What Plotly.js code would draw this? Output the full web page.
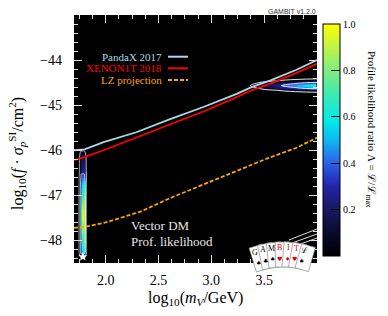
<!DOCTYPE html>
<html>
<head>
<meta charset="utf-8">
<script src="https://cdn.plot.ly/plotly-3.0.1.min.js"></script>
<style>html,body{margin:0;padding:0;background:#fff;}#plot{width:388px;height:316px;}</style>
</head>
<body>
<div id="plot"></div>
<script>
// ---- Limit curves (log10 mV [GeV], log10 f*sigma_p^SI [cm^2]) ----
var pandaX = [1.70, 1.80, 1.98, 2.29, 2.61, 2.925, 3.24, 3.38, 3.56, 3.80, 4.00];
var pandaY = [-46.00, -45.98, -45.82, -45.60, -45.31, -45.04, -44.75, -44.60, -44.45, -44.22, -44.00];

var xenonX = [1.70, 1.80, 1.98, 2.29, 2.61, 2.925, 3.24, 3.38, 3.56, 3.80, 4.00];
var xenonY = [-46.22, -46.15, -46.00, -45.72, -45.43, -45.14, -44.82, -44.67, -44.52, -44.29, -44.08];

var lzX = [1.70, 1.80, 2.00, 2.33, 2.60, 2.80, 3.085, 3.30, 3.53, 3.80, 4.00];
var lzY = [-47.72, -47.70, -47.60, -47.36, -47.07, -46.88, -46.60, -46.40, -46.18, -45.95, -45.72];

// ---- Profile likelihood ratio: low-mass strip ----
var stripX = [1.742, 1.755, 1.769, 1.783, 1.797, 1.811, 1.824];
var stripY = [-48.45, -48.35, -48.25, -48.10, -47.90, -47.70, -47.50, -47.30, -47.10, -46.90, -46.75, -46.60, -46.45, -46.30, -46.15, -46.05, -45.97];
var stripZ = [
  [0, 0,    0,    0,    0,    0,    0],
  [0, 0.03, 0.10, 0.10, 0.10, 0.03, 0],
  [0, 0.14, 0.55, 0.55, 0.55, 0.14, 0],
  [0, 0.17, 0.68, 0.68, 0.68, 0.17, 0],
  [0, 0.19, 0.75, 0.75, 0.75, 0.19, 0],
  [0, 0.21, 0.85, 0.85, 0.85, 0.21, 0],
  [0, 0.23, 0.93, 0.93, 0.93, 0.23, 0],
  [0, 0.22, 0.90, 0.90, 0.90, 0.22, 0],
  [0, 0.20, 0.78, 0.78, 0.78, 0.20, 0],
  [0, 0.16, 0.65, 0.65, 0.65, 0.16, 0],
  [0, 0.14, 0.56, 0.56, 0.56, 0.14, 0],
  [0, 0.10, 0.40, 0.40, 0.40, 0.10, 0],
  [0, 0.07, 0.24, 0.24, 0.24, 0.07, 0],
  [0, 0.07, 0.21, 0.21, 0.21, 0.07, 0],
  [0, 0.06, 0.16, 0.16, 0.16, 0.06, 0],
  [0, 0.03, 0.08, 0.08, 0.08, 0.03, 0],
  [0, 0,    0,    0,    0,    0,    0]
];

// ---- Profile likelihood ratio: high-mass blob ----
var blobX = [3.33, 3.40, 3.50, 3.60, 3.70, 3.80, 3.90, 4.00];
var blobY = [-44.74, -44.67, -44.615, -44.565, -44.515, -44.46, -44.39];
var blobZ = [
  [0, 0,    0,    0,    0,    0,    0,    0],
  [0, 0,    0.02, 0.04, 0.06, 0.08, 0.10, 0.12],
  [0, 0.03, 0.09, 0.14, 0.22, 0.30, 0.40, 0.45],
  [0, 0.08, 0.15, 0.22, 0.38, 0.50, 0.62, 0.70],
  [0, 0.03, 0.09, 0.14, 0.22, 0.30, 0.40, 0.45],
  [0, 0,    0.02, 0.04, 0.06, 0.08, 0.10, 0.12],
  [0, 0,    0,    0,    0,    0,    0,    0]
];

// best-fit point
var bestX = [1.784];
var bestY = [-48.36];

// tick labels
var xTicks = [2.0, 2.5, 3.0, 3.5];
var yTicks = [-48, -47, -46, -45, -44];
var cbTicks = [0.2, 0.4, 0.6, 0.8, 1.0];
var cbMinorTicks = [0.1, 0.3, 0.5, 0.7, 0.9];

var legendNames = ['PandaX 2017', 'XENON1T 2018', 'LZ projection'];
var legendColors = ['#add8e6', '#ff0000', '#ffa500'];

var cardLetters = ['G', 'A', 'M', 'B', 'I', 'T', 'ℒ'];
var cardSuits = ['♠', '♣', '♠', '♥', '♦', '♥', '♠'];
var cardColors = ['#000', '#000', '#000', '#e00000', '#e00000', '#e00000', '#000'];
var cardAngles = [-17, -11.5, -6, -0.5, 5, 10.5, 16];

var SERIF = 'Liberation Serif, DejaVu Serif, serif';
var cscale = [[0, '#000000'], [0.1, '#0a0a2a'], [0.2, '#181862'], [0.3, '#2424aa'], [0.4, '#2a62e8'], [0.5, '#10b8f0'], [0.58, '#00eae8'], [0.7, '#40eab0'], [0.8, '#80ec80'], [0.9, '#c0f448'], [1, '#ffff00']];

// plot-area pixel geometry
var L = 74, R = 317, T = 15, B = 263;
function pX(x) { return (x - L) / (R - L); }
function pY(y) { return (B - y) / (B - T); }
var CB_L = 323, CB_R = 340, CB_T = 24, CB_B = 256;

var contourLevels = {start: 0.045, end: 0.32, size: 0.275, coloring: 'none', showlines: true};

var traces = [
  {type: 'heatmap', x: stripX, y: stripY, z: stripZ, zmin: 0, zmax: 1, zsmooth: 'best', colorscale: cscale,
   showscale: true, hoverinfo: 'skip',
   colorbar: {x: pX(CB_L), xanchor: 'left', xpad: 0, ypad: 0, thickness: CB_R - CB_L, thicknessmode: 'pixels',
     len: (CB_B - CB_T) / (B - T), lenmode: 'fraction', y: pY(CB_B), yanchor: 'bottom',
     outlinecolor: '#000', outlinewidth: 1, ticks: 'inside', ticklen: 9, tickcolor: '#000', tickwidth: 1,
     tickvals: cbTicks, tickformat: '.1f', tickfont: {family: SERIF, size: 10, color: '#000'}}},
  {type: 'heatmap', x: blobX, y: blobY, z: blobZ, zmin: 0, zmax: 1, zsmooth: 'best', colorscale: cscale,
   showscale: false, hoverinfo: 'skip'},
  {type: 'contour', x: stripX, y: stripY, z: stripZ, showscale: false, hoverinfo: 'skip', autocontour: false,
   contours: contourLevels, line: {color: '#ffffff', width: 0.7, smoothing: 1}},
  {type: 'contour', x: blobX, y: blobY, z: blobZ, showscale: false, hoverinfo: 'skip', autocontour: false,
   contours: contourLevels, line: {color: '#ffffff', width: 0.9, smoothing: 1}},
  {type: 'scatter', mode: 'lines', x: lzX, y: lzY, line: {color: '#ffa500', width: 1.8, dash: '4px,2px'}, showlegend: false},
  {type: 'scatter', mode: 'lines', x: xenonX, y: xenonY, line: {color: '#ff0000', width: 1.8}, showlegend: false},
  {type: 'scatter', mode: 'lines', x: pandaX, y: pandaY, line: {color: '#add8e6', width: 1.8}, showlegend: false},
  {type: 'scatter', mode: 'markers', x: bestX, y: bestY, marker: {symbol: 'star', size: 7, color: '#ffffff'}, showlegend: false}
];

var annotations = [];
var shapes = [];

// colorbar minor ticks
cbMinorTicks.forEach(function (v) {
  var yy = CB_B - (CB_B - CB_T) * v;
  shapes.push({type: 'line', xref: 'paper', yref: 'paper', x0: pX(CB_R - 5), x1: pX(CB_R), y0: pY(yy), y1: pY(yy),
    line: {color: '#000', width: 1}});
});

// legend: text right-aligned, sample line to the right
var legY = [56.7, 68.3, 80];
for (var i = 0; i < legendNames.length; i++) {
  annotations.push({xref: 'paper', yref: 'paper', x: pX(164), y: pY(legY[i]), xanchor: 'right', yanchor: 'middle',
    text: legendNames[i], showarrow: false, font: {family: SERIF, size: 11, color: legendColors[i]}});
  shapes.push({type: 'line', xref: 'paper', yref: 'paper', x0: pX(168), x1: pX(188), y0: pY(legY[i]), y1: pY(legY[i]),
    line: {color: legendColors[i], width: 2, dash: i === 2 ? '4px,2px' : 'solid'}});
}

annotations.push({xref: 'paper', yref: 'paper', x: pX(129), y: pY(225), xanchor: 'left', yanchor: 'middle',
  text: 'Vector DM', showarrow: false, font: {family: SERIF, size: 13, color: '#e6e6e6'}});
annotations.push({xref: 'paper', yref: 'paper', x: pX(129), y: pY(241), xanchor: 'left', yanchor: 'middle',
  text: 'Prof. likelihood', showarrow: false, font: {family: SERIF, size: 13, color: '#e6e6e6'}});

// axis titles
annotations.push({xref: 'paper', yref: 'paper', x: pX(195.5), y: pY(298), xanchor: 'center', yanchor: 'middle',
  text: 'log<sub>10</sub>(<i>m</i><sub><i>V</i></sub>/GeV)', showarrow: false, font: {family: SERIF, size: 16, color: '#000'}});
annotations.push({xref: 'paper', yref: 'paper', x: pX(17), y: pY(154), xanchor: 'center', yanchor: 'middle', textangle: -90,
  text: 'log<sub>10</sub>(<i>f</i> · <i>σ</i><sub><i>p</i></sub><sup>SI</sup>/cm<sup>2</sup>)', showarrow: false,
  font: {family: SERIF, size: 16, color: '#000'}});
annotations.push({xref: 'paper', yref: 'paper', x: pX(371), y: pY(129), xanchor: 'center', yanchor: 'middle', textangle: 90,
  text: 'Profile likelihood ratio Λ = ℒ/ℒ<sub>max</sub>', showarrow: false,
  font: {family: SERIF, size: 11, color: '#000'}});
annotations.push({xref: 'paper', yref: 'paper', x: pX(318), y: pY(11), xanchor: 'right', yanchor: 'middle',
  text: 'GAMBIT v1.2.0', showarrow: false, font: {family: 'Liberation Sans, sans-serif', size: 7, color: '#333'}});

// GAMBIT card logo
var piv = [283, 335];
function pt(r, off, th) {
  var s = Math.sin(th), c = Math.cos(th);
  return [piv[0] + r * s + off * c, piv[1] - r * c + off * s];
}
[[289, 240, 317, 229], [292, 243, 317, 234], [295, 246, 317, 238]].forEach(function (l) {
  shapes.push({type: 'line', xref: 'paper', yref: 'paper', x0: pX(l[0]), y0: pY(l[1]), x1: pX(l[2]), y1: pY(l[3]),
    line: {color: '#dddddd', width: 1}});
});
for (var k = 0; k < cardAngles.length; k++) {
  var th = cardAngles[k] * Math.PI / 180;
  var c1 = pt(68, -7, th), c2 = pt(93, -7, th), c3 = pt(93, 7, th), c4 = pt(68, 7, th);
  var path = 'M' + pX(c1[0]) + ',' + pY(c1[1]) + 'L' + pX(c2[0]) + ',' + pY(c2[1]) + 'L' + pX(c3[0]) + ',' + pY(c3[1]) + 'L' + pX(c4[0]) + ',' + pY(c4[1]) + 'Z';
  shapes.push({type: 'path', xref: 'paper', yref: 'paper', path: path, fillcolor: '#ffffff', line: {color: '#888888', width: 0.7}, layer: 'above'});
}
for (var k = 0; k < cardAngles.length; k++) {
  var th = cardAngles[k] * Math.PI / 180;
  var lp = pt(87.5, -2.5, th), sp = pt(77, -2.5, th);
  annotations.push({xref: 'paper', yref: 'paper', x: pX(lp[0]), y: pY(lp[1]), xanchor: 'center', yanchor: 'middle',
    text: cardLetters[k], showarrow: false, font: {family: SERIF, size: 8, color: cardColors[k]}});
  annotations.push({xref: 'paper', yref: 'paper', x: pX(sp[0]), y: pY(sp[1]), xanchor: 'center', yanchor: 'middle',
    text: cardSuits[k], showarrow: false, font: {family: 'DejaVu Sans', size: 6, color: cardColors[k]}});
}

var layout = {
  width: 388, height: 316,
  margin: {l: L, r: 388 - R, t: T, b: 316 - B, pad: 0},
  paper_bgcolor: '#ffffff', plot_bgcolor: '#000000',
  showlegend: false,
  font: {family: SERIF, color: '#000'},
  xaxis: {range: [1.70, 4.0], tickvals: xTicks, tickformat: '.1f', ticks: 'inside', ticklen: 8, tickcolor: '#dddddd', tickwidth: 1,
    mirror: 'ticks', showgrid: false, zeroline: false, showline: false, ticklabelstandoff: 7,
    tickfont: {family: SERIF, size: 14, color: '#000'},
    minor: {dtick: 0.125, tick0: 0, ticks: 'inside', ticklen: 4, tickcolor: '#dddddd', tickwidth: 1, showgrid: false}},
  yaxis: {range: [-48.5, -43.0], tickvals: yTicks, ticks: 'inside', ticklen: 8, tickcolor: '#dddddd', tickwidth: 1,
    mirror: 'ticks', showgrid: false, zeroline: false, showline: false, ticklabelstandoff: 11,
    tickfont: {family: SERIF, size: 14, color: '#000'},
    minor: {dtick: 0.2, tick0: 0, ticks: 'inside', ticklen: 4, tickcolor: '#dddddd', tickwidth: 1, showgrid: false}},
  annotations: annotations,
  shapes: shapes
};

Plotly.newPlot('plot', traces, layout, {displayModeBar: false, staticPlot: true});
</script>
</body>
</html>
